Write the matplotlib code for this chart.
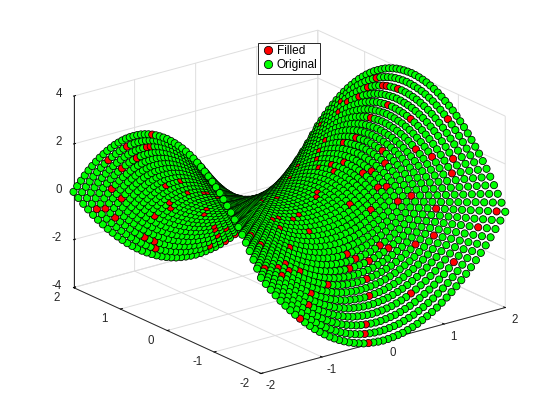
import numpy as np
import matplotlib
matplotlib.use('Agg')
import matplotlib.pyplot as plt
from matplotlib.lines import Line2D
from mpl_toolkits.mplot3d import proj3d

plt.rcParams['font.family'] = ['Liberation Sans', 'DejaVu Sans']
plt.rcParams['axes.unicode_minus'] = False

# grid positions, same for x and y
grid_vals = [-2.00, -1.92, -1.84, -1.76, -1.68, -1.60, -1.52, -1.44, -1.36, -1.28, -1.20, -1.12, -1.04,
             -0.96, -0.88, -0.80, -0.72, -0.64, -0.56, -0.48, -0.40, -0.32, -0.24, -0.16, -0.08, 0.00,
             0.08, 0.16, 0.24, 0.32, 0.40, 0.48, 0.56, 0.64, 0.72, 0.80, 0.88, 0.96, 1.04, 1.12, 1.20,
             1.28, 1.36, 1.44, 1.52, 1.60, 1.68, 1.76, 1.84, 1.92, 2.00]

# heights for one quarter of the surface: row = steps from centre in x, column = steps from centre in y
z_quarter = [
 [0,-.01,-.03,-.06,-.10,-.16,-.23,-.31,-.41,-.52,-.64,-.77,-.92,-1.08,-1.25,-1.44,-1.64,-1.85,-2.07,-2.31,-2.56,-2.82,-3.10,-3.39,-3.69,-4],
 [.01,0,-.02,-.05,-.09,-.15,-.22,-.30,-.40,-.51,-.63,-.76,-.91,-1.07,-1.24,-1.43,-1.63,-1.84,-2.06,-2.30,-2.55,-2.81,-3.09,-3.38,-3.68,-3.99],
 [.03,.02,0,-.03,-.07,-.13,-.20,-.28,-.38,-.49,-.61,-.74,-.89,-1.05,-1.22,-1.41,-1.61,-1.82,-2.04,-2.28,-2.53,-2.79,-3.07,-3.36,-3.66,-3.97],
 [.06,.05,.03,0,-.04,-.10,-.17,-.25,-.35,-.46,-.58,-.71,-.86,-1.02,-1.19,-1.38,-1.58,-1.79,-2.01,-2.25,-2.50,-2.76,-3.04,-3.33,-3.63,-3.94],
 [.10,.09,.07,.04,0,-.06,-.13,-.21,-.31,-.42,-.54,-.67,-.82,-.98,-1.15,-1.34,-1.54,-1.75,-1.97,-2.21,-2.46,-2.72,-3.00,-3.29,-3.59,-3.90],
 [.16,.15,.13,.10,.06,0,-.07,-.15,-.25,-.36,-.48,-.61,-.76,-.92,-1.09,-1.28,-1.48,-1.69,-1.91,-2.15,-2.40,-2.66,-2.94,-3.23,-3.53,-3.84],
 [.23,.22,.20,.17,.13,.07,0,-.08,-.18,-.29,-.41,-.54,-.69,-.85,-1.02,-1.21,-1.41,-1.62,-1.84,-2.08,-2.33,-2.59,-2.87,-3.16,-3.46,-3.77],
 [.31,.30,.28,.25,.21,.15,.08,0,-.10,-.21,-.33,-.46,-.61,-.77,-.94,-1.13,-1.33,-1.54,-1.76,-2.00,-2.25,-2.51,-2.79,-3.08,-3.38,-3.69],
 [.41,.40,.38,.35,.31,.25,.18,.10,0,-.11,-.23,-.36,-.51,-.67,-.84,-1.03,-1.23,-1.44,-1.66,-1.90,-2.15,-2.41,-2.69,-2.98,-3.28,-3.59],
 [.52,.51,.49,.46,.42,.36,.29,.21,.11,0,-.12,-.25,-.40,-.56,-.73,-.92,-1.12,-1.33,-1.55,-1.79,-2.04,-2.30,-2.58,-2.87,-3.17,-3.48],
 [.64,.63,.61,.58,.54,.48,.41,.33,.23,.12,0,-.13,-.28,-.44,-.61,-.80,-1.00,-1.21,-1.43,-1.67,-1.92,-2.18,-2.46,-2.75,-3.05,-3.36],
 [.77,.76,.74,.71,.67,.61,.54,.46,.36,.25,.13,0,-.15,-.31,-.48,-.67,-.87,-1.08,-1.30,-1.54,-1.79,-2.05,-2.33,-2.62,-2.92,-3.23],
 [.92,.91,.89,.86,.82,.76,.69,.61,.51,.40,.28,.15,0,-.16,-.33,-.52,-.72,-.93,-1.15,-1.39,-1.64,-1.90,-2.18,-2.47,-2.77,-3.08],
 [1.08,1.07,1.05,1.02,.98,.92,.85,.77,.67,.56,.44,.31,.16,0,-.17,-.36,-.56,-.77,-.99,-1.23,-1.48,-1.74,-2.02,-2.31,-2.61,-2.92],
 [1.25,1.24,1.22,1.19,1.15,1.09,1.02,.94,.84,.73,.61,.48,.33,.17,0,-.19,-.39,-.60,-.82,-1.06,-1.31,-1.57,-1.85,-2.14,-2.44,-2.75],
 [1.44,1.43,1.41,1.38,1.34,1.28,1.21,1.13,1.03,.92,.80,.67,.52,.36,.19,0,-.20,-.41,-.63,-.87,-1.12,-1.38,-1.66,-1.95,-2.25,-2.56],
 [1.64,1.63,1.61,1.58,1.54,1.48,1.41,1.33,1.23,1.12,1.00,.87,.72,.56,.39,.20,0,-.21,-.43,-.67,-.92,-1.18,-1.46,-1.75,-2.05,-2.36],
 [1.85,1.84,1.82,1.79,1.75,1.69,1.62,1.54,1.44,1.33,1.21,1.08,.93,.77,.60,.41,.21,0,-.22,-.46,-.71,-.97,-1.25,-1.54,-1.84,-2.15],
 [2.07,2.06,2.04,2.01,1.97,1.91,1.84,1.76,1.66,1.55,1.43,1.30,1.15,.99,.82,.63,.43,.22,0,-.24,-.49,-.75,-1.03,-1.32,-1.62,-1.93],
 [2.31,2.30,2.28,2.25,2.21,2.15,2.08,2.00,1.90,1.79,1.67,1.54,1.39,1.23,1.06,.87,.67,.46,.24,0,-.25,-.51,-.79,-1.08,-1.38,-1.69],
 [2.56,2.55,2.53,2.50,2.46,2.40,2.33,2.25,2.15,2.04,1.92,1.79,1.64,1.48,1.31,1.12,.92,.71,.49,.25,0,-.26,-.54,-.83,-1.13,-1.44],
 [2.82,2.81,2.79,2.76,2.72,2.66,2.59,2.51,2.41,2.30,2.18,2.05,1.90,1.74,1.57,1.38,1.18,.97,.75,.51,.26,0,-.28,-.57,-.87,-1.18],
 [3.10,3.09,3.07,3.04,3.00,2.94,2.87,2.79,2.69,2.58,2.46,2.33,2.18,2.02,1.85,1.66,1.46,1.25,1.03,.79,.54,.28,0,-.29,-.59,-.90],
 [3.39,3.38,3.36,3.33,3.29,3.23,3.16,3.08,2.98,2.87,2.75,2.62,2.47,2.31,2.14,1.95,1.75,1.54,1.32,1.08,.83,.57,.29,0,-.30,-.61],
 [3.69,3.68,3.66,3.63,3.59,3.53,3.46,3.38,3.28,3.17,3.05,2.92,2.77,2.61,2.44,2.25,2.05,1.84,1.62,1.38,1.13,.87,.59,.30,0,-.31],
 [4,3.99,3.97,3.94,3.90,3.84,3.77,3.69,3.59,3.48,3.36,3.23,3.08,2.92,2.75,2.56,2.36,2.15,1.93,1.69,1.44,1.18,.90,.61,.31,0],
]

# which grid nodes are the filled (red) ones
filled_ix = [49,48,48,48,48,47,48,47,46,46,44,46,49,41,40,44,41,45,47,37,40,38,37,46,37,38,40,38,32,34,42,49,46,40,32,33,37,26,27,29,41,25,27,33,26,23,22,22,
             0,2,1,2,1,3,3,9,9,4,12,13,13,15,6,12,13,4,5,18,19,12,7,24,25,28,27,33,13,31,15,27,16,
             33,35,30,29,20,24,18,23,16,21,16,4,22,6,15,11,3,8,11,14,8,19,14,12,8,47,41,39,37,36,37,35]
filled_iy = [33,30,29,34,26,35,41,38,26,39,28,20,14,28,30,16,21,13,10,26,19,20,21,9,17,16,12,13,18,15,8,1,2,6,10,9,7,11,10,9,2,9,7,3,5,2,1,0,
             29,32,37,33,42,37,41,33,37,45,35,32,31,31,45,40,41,49,48,38,40,44,48,44,45,46,47,50,48,50,48,49,49,
             35,26,24,23,26,27,19,20,18,19,16,8,16,8,12,8,3,6,7,8,5,7,5,3,0,45,36,35,33,28,38,30]

x_ticks = [-2, -1, 0, 1, 2]
y_ticks = [-2, -1, 0, 1, 2]
z_ticks = [-4, -2, 0, 2, 4]

# rebuild the whole grid from the quarter table
steps = np.abs(np.arange(51) - 25)
z_full = np.array(z_quarter)[np.ix_(steps, steps)]
x_full, y_full = np.meshgrid(np.array(grid_vals), np.array(grid_vals), indexing='ij')

colors = np.tile([0.0, 1.0, 0.0, 1.0], (51 * 51, 1))
colors[np.array(filled_ix) * 51 + np.array(filled_iy)] = [1.0, 0.0, 0.0, 1.0]

fig = plt.figure(figsize=(5.6, 4.2), dpi=100)
ax = fig.add_axes([3.7 / 560, 2.5 / 420, 1, 1], projection='3d', proj_type='ortho')
ax.view_init(elev=20.6, azim=-127.5)
ax.set_box_aspect((1, 1, 0.6643), zoom=1.112)

pts = ax.scatter(x_full.ravel(), y_full.ravel(), z_full.ravel(), c=colors, s=27,
                 edgecolors='black', linewidths=0.55, depthshade=False)
pts.set_clip_on(False)

ax.set_xlim(-2, 2)
ax.set_ylim(-2, 2)
ax.set_zlim(-4, 4)
ax.set_xticks(x_ticks)
ax.set_yticks(y_ticks)
ax.set_zticks(z_ticks)

for axis in (ax.xaxis, ax.yaxis, ax.zaxis):
    axis.set_pane_color((1, 1, 1, 0))
    axis.pane.set_edgecolor('#dedede')
    axis.line.set_color('#262626')
    axis.line.set_linewidth(0.7)
    axis._axinfo['grid']['color'] = '#dedede'
    axis._axinfo['grid']['linewidth'] = 0.7
    axis._axinfo['tick']['inward_factor'] = 0.0
    axis._axinfo['tick']['outward_factor'] = 0.1
    axis._axinfo['tick']['linewidth'] = {True: 0.7, False: 0.5}
    axis._axinfo['tick']['color'] = '#262626'
    # the default labels are replaced by the fig.text calls below
    for tick in axis.get_major_ticks():
        tick.label1.set_visible(False)
        tick.label2.set_visible(False)

fig.canvas.draw()


def label_at(x, y, z, text, ha):
    # tick labels sit a little further from the axes than matplotlib puts them
    x2, y2, _ = proj3d.proj_transform(x, y, z, ax.get_proj())
    px, py = ax.transData.transform((x2, y2))
    fig.text(px / 560, py / 420, text, ha=ha, va='center', fontsize=8.3, color='#262626')


for t in x_ticks:
    label_at(t, -2.2, -4.35, str(t), 'center')
for t in y_ticks:
    label_at(-2.27, t, -4.25, str(t), 'center')
for t in z_ticks:
    label_at(-2.119, 2.091, t + 0.07, str(t), 'right')

handles = [Line2D([], [], ls='none', marker='o', mfc='#ff0000', mec='black', mew=0.55, ms=6),
           Line2D([], [], ls='none', marker='o', mfc='#00ff00', mec='black', mew=0.55, ms=6)]
leg = fig.legend(handles, ['Filled', 'Original'], loc='upper left',
                 bbox_to_anchor=(258.3 / 560, 1 - 42.7 / 420), borderaxespad=0, fancybox=False,
                 edgecolor='#262626', framealpha=1, fontsize=8.6, labelspacing=0.15,
                 handlelength=1.14, handletextpad=0.18, borderpad=0.22)
leg.get_frame().set_linewidth(0.7)

fig.savefig('out.png', dpi=100)
